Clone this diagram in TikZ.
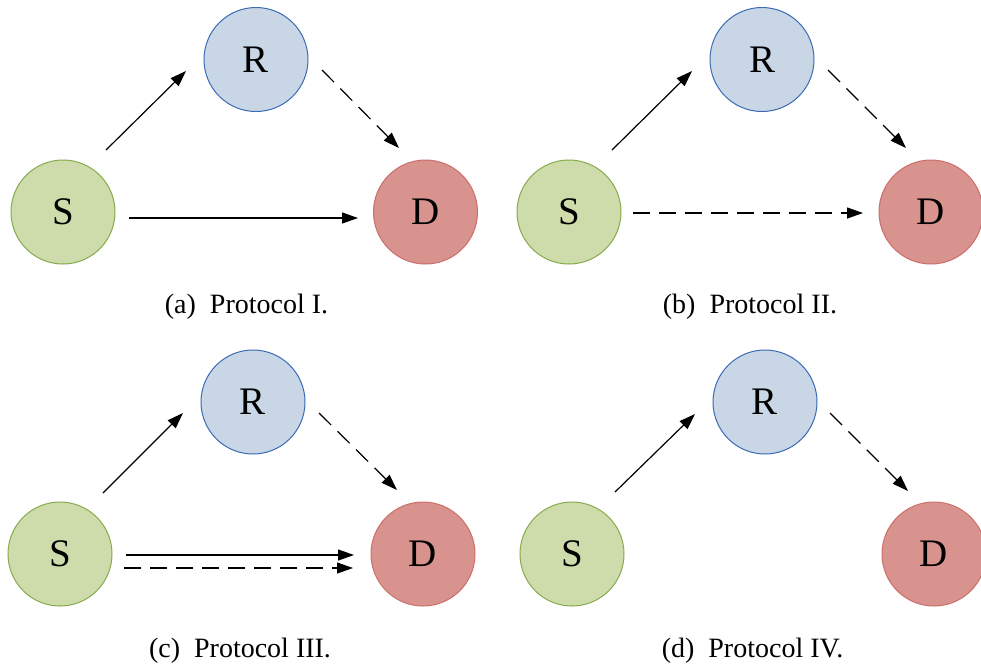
\documentclass[tikz,border=0pt]{standalone}
\usepackage{fontspec}
\setmainfont{Liberation Serif}
\usetikzlibrary{arrows.meta}
\definecolor{sfill}{HTML}{CDDCAA}
\definecolor{sdraw}{HTML}{86AA4C}
\definecolor{rfill}{HTML}{C9D6E6}
\definecolor{rdraw}{HTML}{3A6BB3}
\definecolor{dfill}{HTML}{D9938E}
\definecolor{ddraw}{HTML}{CC6E69}
\tikzset{
  x=0.5pt, y=-0.5pt,
  nodebase/.style={circle, minimum size=52pt, inner sep=0pt, line width=0.5pt,
    font=\fontsize{19.5}{19.5}\selectfont},
  snode/.style={nodebase, fill=sfill, draw=sdraw},
  rnode/.style={nodebase, fill=rfill, draw=rdraw},
  dnode/.style={nodebase, fill=dfill, draw=ddraw},
  arr/.style={line width=0.6pt, -{Triangle[length=8pt,width=5.5pt]}},
  darr/.style={arr, dash pattern=on 8.5pt off 4.5pt},
  captext/.style={anchor=base, font=\fontsize{14}{14}\selectfont, inner sep=0pt}
}
\begin{document}
\begin{tikzpicture}
\path[use as bounding box] (0,0) rectangle (981,666);
% (a)
\node[snode] (Sa) at (63,212) {S};
\node[rnode] (Ra) at (256,59.5) {R};
\node[dnode] (Da) at (425.5,212) {D};
\draw[arr] ([shift={(43,-62)}]Sa.center) -- ([shift={(-70,11.5)}]Ra.center);
\draw[darr] ([shift={(66,10.5)}]Ra.center) -- ([shift={(-26.5,-64)}]Da.center);
\draw[arr] ([shift={(66,6)}]Sa.center) -- ([shift={(-67.5,6)}]Da.center);
\node[captext] (ca) at (246.5,313) {(a)\enskip Protocol I.};
% (b)
\node[snode] (Sb) at (569,212) {S};
\node[rnode] (Rb) at (762,59.5) {R};
\node[dnode] (Db) at (931,212) {D};
\draw[arr] ([shift={(43,-62)}]Sb.center) -- ([shift={(-70,11.5)}]Rb.center);
\draw[darr] ([shift={(66,10.5)}]Rb.center) -- ([shift={(-25,-64)}]Db.center);
\draw[darr] ([shift={(64,1)}]Sb.center) -- ([shift={(-68,1)}]Db.center);
\node[captext] (cb) at (750,313) {(b)\enskip Protocol II.};
% (c)
\node[snode] (Sc) at (60,554) {S};
\node[rnode] (Rc) at (253,402) {R};
\node[dnode] (Dc) at (423,554) {D};
\draw[arr] ([shift={(43,-61)}]Sc.center) -- ([shift={(-70,11)}]Rc.center);
\draw[darr] ([shift={(66,11)}]Rc.center) -- ([shift={(-26,-64)}]Dc.center);
\draw[arr] ([shift={(66,1)}]Sc.center) -- ([shift={(-69,1)}]Dc.center);
\draw[darr] ([shift={(64,14)}]Sc.center) -- ([shift={(-70,14)}]Dc.center);
\node[captext] (cc) at (240,657) {(c)\enskip Protocol III.};
% (d)
\node[snode] (Sd) at (572,554) {S};
\node[rnode] (Rd) at (765,402) {R};
\node[dnode] (Dd) at (934,554) {D};
\draw[arr] ([shift={(43,-62)}]Sd.center) -- ([shift={(-70,12)}]Rd.center);
\draw[darr] ([shift={(65,11)}]Rd.center) -- ([shift={(-26,-63)}]Dd.center);
\node[captext] (cd) at (752.5,657) {(d)\enskip Protocol IV.};
\end{tikzpicture}
\end{document}
